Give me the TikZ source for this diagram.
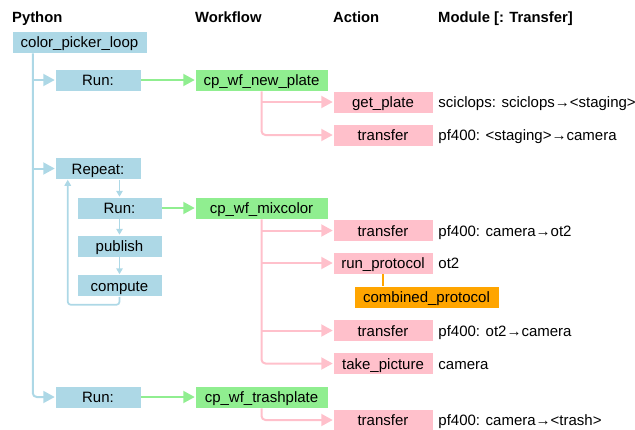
\documentclass[tikz,border=0pt]{standalone}
\usepackage{fontspec}
\setmainfont{Liberation Sans}
\usetikzlibrary{arrows.meta}
\definecolor{pyblue}{HTML}{ADD8E6}
\definecolor{wfgreen}{HTML}{90EE90}
\definecolor{actpink}{HTML}{FFC0CB}
\definecolor{orng}{HTML}{FFA500}
\begin{document}
\begin{tikzpicture}[x=1pt,y=-1pt,
  box/.style={inner sep=0pt, minimum height=22pt, text height=11pt, text depth=0pt,
    font=\fontsize{15}{18}\selectfont, draw=white, line width=0.5pt},
  pybox/.style={box, fill=pyblue, minimum width=86pt},
  wfbox/.style={box, fill=wfgreen, minimum width=133pt},
  actbox/.style={box, fill=actpink, minimum width=100pt},
  orbox/.style={box, fill=orng, minimum width=145pt},
  modtxt/.style={inner sep=0pt, text height=11pt, text depth=0pt, anchor=west,
    font=\fontsize{15}{18}\selectfont},
  hdr/.style={inner sep=0pt, anchor=base west, font=\fontsize{14.8}{17}\selectfont\bfseries},
  bigtip/.style={-{Triangle[length=11.5pt,width=12pt]}},
  smalltip/.style={-{Triangle[length=6pt,width=6.5pt]}},
  pyline/.style={draw=pyblue, line width=2pt},
  pythin/.style={draw=pyblue, line width=1.7pt},
  wfline/.style={draw=wfgreen, line width=2pt},
  actline/.style={draw=actpink, line width=2pt},
  orline/.style={draw=orng, line width=2pt}
]
\useasboundingbox (0,0) rectangle (635,429);
% headers
\node[hdr] (hpy) at (12,22.5) {Python};
\node[hdr] (hwf) at (195,22.5) {Workflow};
\node[hdr] (hact) at (333,22.5) {Action};
\node[hdr] (hmod) at (438,22.5) {Module [: Transfer]};
% python boxes
\node[pybox, minimum width=135pt] (cpl) at (79.5,42) {color\_picker\_loop};
\node[pybox] (run1) at (98,80) {Run:};
\node[pybox] (rep) at (98,168.5) {Repeat:};
\node[pybox, minimum width=85pt] (run2) at (119.5,208) {Run:};
\node[pybox, minimum width=85pt] (pub) at (119.5,246) {publish};
\node[pybox, minimum width=85pt] (comp) at (119.5,285.5) {compute};
\node[pybox] (run3) at (98,397) {Run:};
% workflow boxes
\node[wfbox] (np) at (261.5,80) {cp\_wf\_new\_plate};
\node[wfbox] (mix) at (261.5,208) {cp\_wf\_mixcolor};
\node[wfbox] (tr) at (261.5,397) {cp\_wf\_trashplate};
% action boxes
\node[actbox] (gp) at (383,102) {get\_plate};
\node[actbox] (t1) at (383,135) {transfer};
\node[actbox] (t2) at (383,230.5) {transfer};
\node[actbox] (rp) at (383,263) {run\_protocol};
\node[orbox] (cp) at (426.5,297) {combined\_protocol};
\node[actbox] (t3) at (383,330.5) {transfer};
\node[actbox] (tp) at (383,363.5) {take\_picture};
\node[actbox] (t4) at (383,420) {transfer};
% module texts
\node[modtxt] (m1) at ([xshift=5pt]gp.east) {sciclops: sciclops→<staging>};
\node[modtxt] (m2) at ([xshift=5pt]t1.east) {pf400: <staging>→camera};
\node[modtxt] (m3) at ([xshift=5pt]t2.east) {pf400: camera→ot2};
\node[modtxt] (m4) at ([xshift=5pt]rp.east) {ot2};
\node[modtxt] (m5) at ([xshift=5pt]t3.east) {pf400: ot2→camera};
\node[modtxt] (m6) at ([xshift=5pt]tp.east) {camera};
\node[modtxt] (m7) at ([xshift=5pt]t4.east) {pf400: camera→<trash>};
% python trunk
\coordinate (trunk) at ([xshift=21pt]cpl.south west);
\draw[pyline, bigtip, rounded corners=4pt] (trunk) |- (run3.west);
\draw[pyline, bigtip] (run1.west -| trunk) -- (run1.west);
\draw[pyline, bigtip] (rep.west -| trunk) -- (rep.west);
% repeat loop
\draw[pythin, smalltip] (run2.north |- rep.south) -- (run2.north);
\draw[pythin, smalltip] (run2.south) -- (pub.north);
\draw[pythin, smalltip] (pub.south) -- (comp.north);
\draw[pythin, smalltip, rounded corners=3pt] (comp.south) -- ++(0,8) -| ([xshift=13pt]rep.south west);
% green
\draw[wfline, bigtip] (run1.east) -- (np.west);
\draw[wfline, bigtip] (run2.east) -- (mix.west);
\draw[wfline, bigtip] (run3.east) -- (tr.west);
% pink
\draw[actline, bigtip, rounded corners=4pt] (np.south) |- (t1.west);
\draw[actline, bigtip] (gp.west -| np.south) -- (gp.west);
\draw[actline, bigtip, rounded corners=4pt] (mix.south) |- (tp.west);
\draw[actline, bigtip] (t2.west -| mix.south) -- (t2.west);
\draw[actline, bigtip] (rp.west -| mix.south) -- (rp.west);
\draw[actline, bigtip] (t3.west -| mix.south) -- (t3.west);
\draw[actline, bigtip, rounded corners=4pt] (tr.south) |- (t4.west);
% orange
\draw[orline] (rp.south) -- (rp.south |- cp.north);
\end{tikzpicture}
\end{document}
